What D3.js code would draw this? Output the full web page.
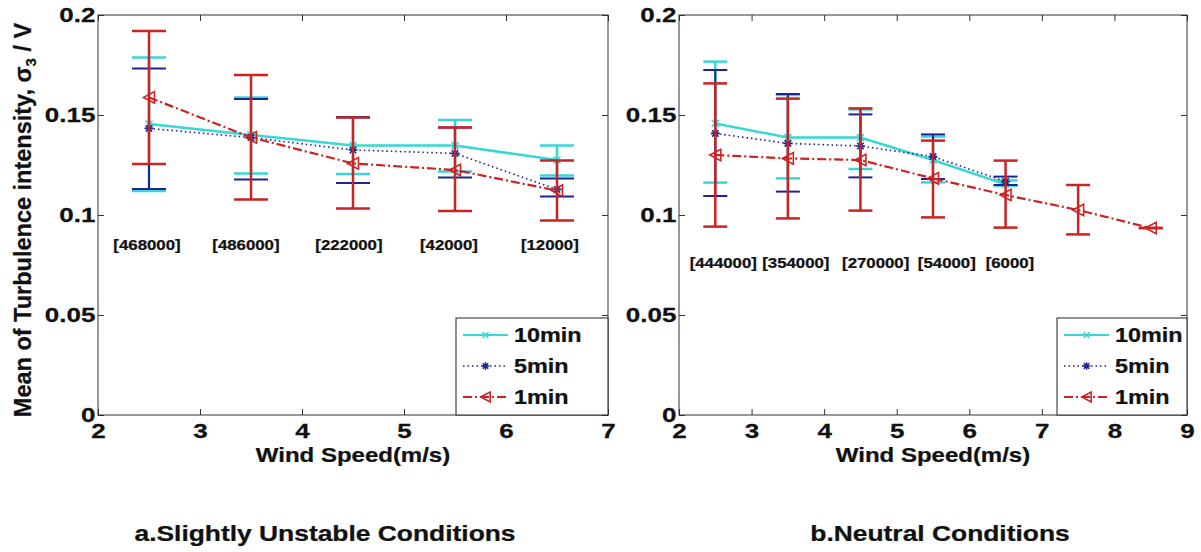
<!DOCTYPE html>
<html>
<head>
<meta charset="utf-8">
<script src="https://cdn.jsdelivr.net/npm/d3@7"></script>
<style>
  body { margin: 0; background: #fff; }
  text { font-family: "Liberation Sans", Arial, sans-serif; font-weight: bold; fill: #111; stroke: #111; stroke-width: 0.25px; }
</style>
</head>
<body>
<svg id="chart" width="1201" height="552"></svg>
<script>
// ---- data ----
const seriesNames = ["10min", "5min", "1min"];

// a. slightly unstable
const windA = [2.5, 3.5, 4.5, 5.5, 6.5];
const meanA10 = [0.1455, 0.1400, 0.1347, 0.1347, 0.1275];
const upA10   = [0.1787, 0.1587, 0.1488, 0.1475, 0.1348];
const loA10   = [0.1120, 0.1208, 0.1205, 0.1217, 0.1197];
const meanA5  = [0.1433, 0.1387, 0.1325, 0.1308, 0.1128];
const upA5    = [0.1733, 0.1580, 0.1490, 0.1437, 0.1183];
const loA5    = [0.1130, 0.1178, 0.1160, 0.1187, 0.1092];
const meanA1  = [0.1588, 0.1388, 0.1258, 0.1225, 0.1122];
const upA1    = [0.1920, 0.1700, 0.1488, 0.1437, 0.1273];
const loA1    = [0.1255, 0.1078, 0.1033, 0.1020, 0.0972];
const countsA = ["[468000]", "[486000]", "[222000]", "[42000]", "[12000]"];
const countXA = [2.48, 3.45, 4.46, 5.44, 6.43];

// b. neutral
const windB  = [2.5, 3.5, 4.5, 5.5, 6.5];
const windB1 = [2.5, 3.5, 4.5, 5.5, 6.5, 7.5, 8.5];
const meanB10 = [0.1458, 0.1387, 0.1387, 0.1275, 0.1153];
const upB10   = [0.1767, 0.1600, 0.1528, 0.1392, 0.1173];
const loB10   = [0.1162, 0.1183, 0.1230, 0.1163, 0.1147];
const meanB5  = [0.1408, 0.1358, 0.1345, 0.1292, 0.1167];
const upB5    = [0.1725, 0.1605, 0.1503, 0.1403, 0.1192];
const loB5    = [0.1095, 0.1117, 0.1188, 0.1180, 0.1150];
const meanB1  = [0.1300, 0.1283, 0.1275, 0.1183, 0.1100, 0.1025, 0.0935];
const upB1    = [0.1658, 0.1582, 0.1533, 0.1372, 0.1272, 0.1150, 0.0935];
const loB1    = [0.0942, 0.0983, 0.1022, 0.0988, 0.0937, 0.0903, 0.0935];
const countsB = ["[444000]", "[354000]", "[270000]", "[54000]", "[6000]"];
const countXB = [2.61, 3.61, 4.71, 5.69, 6.56];

const yTicks = [0, 0.05, 0.1, 0.15, 0.2];
const xTicksA = [2, 3, 4, 5, 6, 7];
const xTicksB = [2, 3, 4, 5, 6, 7, 8, 9];

// ---- styles ----
const styles = {
  "10min": { color: "#38d6d6", width: 2.5, dash: null, marker: "x", bar: 2.5 },
  "5min":  { color: "#1b2490", width: 1.6, dash: "1.5,3", marker: "star", bar: 2 },
  "1min":  { color: "#cc2222", width: 2.2, dash: "9,3,2,3", marker: "tri", bar: 2.5 }
};
const SX = 1.2; // text in the figure is wider than normal

const svg = d3.select("#chart");
svg.append("rect").attr("width", 1201).attr("height", 552).attr("fill", "#fff");

function drawMarker(g, type, cx, cy, color, s) {
  s = s || 1;
  if (type === "x") {
    const r = 3.5 * s;
    g.append("path")
      .attr("d", `M${cx - r},${cy - r}L${cx + r},${cy + r}M${cx - r},${cy + r}L${cx + r},${cy - r}`)
      .attr("stroke", color).attr("stroke-width", 1.5).attr("fill", "none");
  } else if (type === "star") {
    const r = 4.5 * s, d = 3.2 * s;
    g.append("path")
      .attr("d", `M${cx - r},${cy}L${cx + r},${cy}M${cx},${cy - r}L${cx},${cy + r}` +
                 `M${cx - d},${cy - d}L${cx + d},${cy + d}M${cx - d},${cy + d}L${cx + d},${cy - d}`)
      .attr("stroke", color).attr("stroke-width", 1.6).attr("fill", "none");
  } else {
    const r = 5.5 * s;
    g.append("path")
      .attr("d", `M${cx - r},${cy}L${cx + r},${cy - r * 1.05}L${cx + r},${cy + r * 1.05}Z`)
      .attr("stroke", color).attr("stroke-width", 1.6).attr("fill", "none");
  }
}

function panel(cfg) {
  const g = svg.append("g");
  const x = d3.scaleLinear().domain(cfg.xDomain).range([cfg.left, cfg.right]);
  const y = d3.scaleLinear().domain([0, 0.2]).range([415, 15]);
  const fmt = d3.format("~g");

  // axes with inward ticks on all four sides
  const axB = g.append("g").attr("transform", "translate(0,415)")
    .call(d3.axisBottom(x).tickValues(cfg.xTicks).tickSize(-6).tickPadding(9).tickFormat(d3.format("d")));
  const axL = g.append("g").attr("transform", `translate(${cfg.left},0)`)
    .call(d3.axisLeft(y).tickValues(yTicks).tickSize(-6).tickPadding(2).tickFormat(fmt));
  g.append("g").attr("transform", "translate(0,15)")
    .call(d3.axisTop(x).tickValues(cfg.xTicks).tickSize(-6).tickFormat(""));
  g.append("g").attr("transform", `translate(${cfg.right},0)`)
    .call(d3.axisRight(y).tickValues(yTicks).tickSize(-6).tickFormat(""));
  g.selectAll(".domain").remove();
  g.selectAll(".tick line").attr("stroke", "#333");
  [axB, axL].forEach(a => {
    a.attr("font-size", 20).attr("font-family", null);
    a.selectAll(".tick text").attr("fill", "#111").attr("transform", "scale(1.3,1)");
  });
  g.append("rect")
    .attr("x", cfg.left).attr("y", 15)
    .attr("width", cfg.right - cfg.left).attr("height", 400)
    .attr("fill", "none").attr("stroke", "#333").attr("stroke-width", 1);

  // series: error bars, line, markers
  cfg.series.forEach(s => {
    const st = styles[s.name];
    const sg = g.append("g");
    s.wind.forEach((w, i) => {
      const cx = x(w);
      sg.append("line")
        .attr("x1", cx).attr("x2", cx).attr("y1", y(s.up[i])).attr("y2", y(s.lo[i]))
        .attr("stroke", st.color).attr("stroke-width", st.bar);
      [s.up[i], s.lo[i]].forEach(v => {
        sg.append("line")
          .attr("x1", cx - cfg.cap).attr("x2", cx + cfg.cap).attr("y1", y(v)).attr("y2", y(v))
          .attr("stroke", st.color).attr("stroke-width", st.bar);
      });
    });
    const line = d3.line().x((d, i) => x(s.wind[i])).y(d => y(d));
    sg.append("path").attr("d", line(s.mean))
      .attr("fill", "none").attr("stroke", st.color).attr("stroke-width", st.width)
      .attr("stroke-dasharray", st.dash);
    s.mean.forEach((m, i) => drawMarker(sg, st.marker, x(s.wind[i]), y(m), st.color));
  });

  // sample counts
  cfg.counts.forEach((c, i) => {
    g.append("text")
      .attr("transform", `translate(${x(cfg.countX[i])},${y(cfg.countY) + 5}) scale(${SX},1)`)
      .attr("text-anchor", "middle").attr("font-size", 14).text(c);
  });

  // legend
  const lg = g.append("g").attr("transform", `translate(${cfg.legendX},318)`);
  lg.append("rect").attr("width", cfg.right - cfg.legendX).attr("height", 97)
    .attr("fill", "#fff").attr("stroke", "#222").attr("stroke-width", 1);
  seriesNames.forEach((n, i) => {
    const st = styles[n];
    const ly = 17 + i * 31;
    lg.append("line").attr("x1", 7).attr("x2", 52).attr("y1", ly).attr("y2", ly)
      .attr("stroke", st.color).attr("stroke-width", Math.min(st.width, 2))
      .attr("stroke-dasharray", st.dash);
    drawMarker(lg, st.marker, 29.5, ly, st.color, 0.85);
    lg.append("text")
      .attr("transform", `translate(58,${ly + 7}) scale(${SX},1)`)
      .attr("font-size", 19.5).text(n);
  });

  // x title and caption
  g.append("text")
    .attr("transform", `translate(${(cfg.left + cfg.right) / 2},462) scale(${SX},1)`)
    .attr("text-anchor", "middle").attr("font-size", 20).text("Wind Speed(m/s)");
  g.append("text")
    .attr("transform", `translate(${cfg.captionX},541) scale(${SX},1)`)
    .attr("text-anchor", "middle").attr("font-size", 22).text(cfg.caption);
}

panel({
  left: 98, right: 608, xDomain: [2, 7], xTicks: xTicksA, cap: 17,
  series: [
    { name: "10min", wind: windA, mean: meanA10, up: upA10, lo: loA10 },
    { name: "5min",  wind: windA, mean: meanA5,  up: upA5,  lo: loA5 },
    { name: "1min",  wind: windA, mean: meanA1,  up: upA1,  lo: loA1 }
  ],
  counts: countsA, countX: countXA, countY: 0.085,
  legendX: 456, captionX: 325, caption: "a.Slightly Unstable Conditions"
});

panel({
  left: 679, right: 1187, xDomain: [2, 9], xTicks: xTicksB, cap: 12,
  series: [
    { name: "10min", wind: windB,  mean: meanB10, up: upB10, lo: loB10 },
    { name: "5min",  wind: windB,  mean: meanB5,  up: upB5,  lo: loB5 },
    { name: "1min",  wind: windB1, mean: meanB1,  up: upB1,  lo: loB1 }
  ],
  counts: countsB, countX: countXB, countY: 0.076,
  legendX: 1057, captionX: 940, caption: "b.Neutral Conditions"
});

// y title (left panel only)
const yt = svg.append("text")
  .attr("transform", "translate(31,220) rotate(-90)")
  .attr("text-anchor", "middle").attr("font-size", 23.5);
yt.append("tspan").text("Mean of Turbulence intensity, \u03c3");
yt.append("tspan").attr("font-size", 15).attr("dy", 5).text("3");
yt.append("tspan").attr("dy", -5).text(" / V");
</script>
</body>
</html>
